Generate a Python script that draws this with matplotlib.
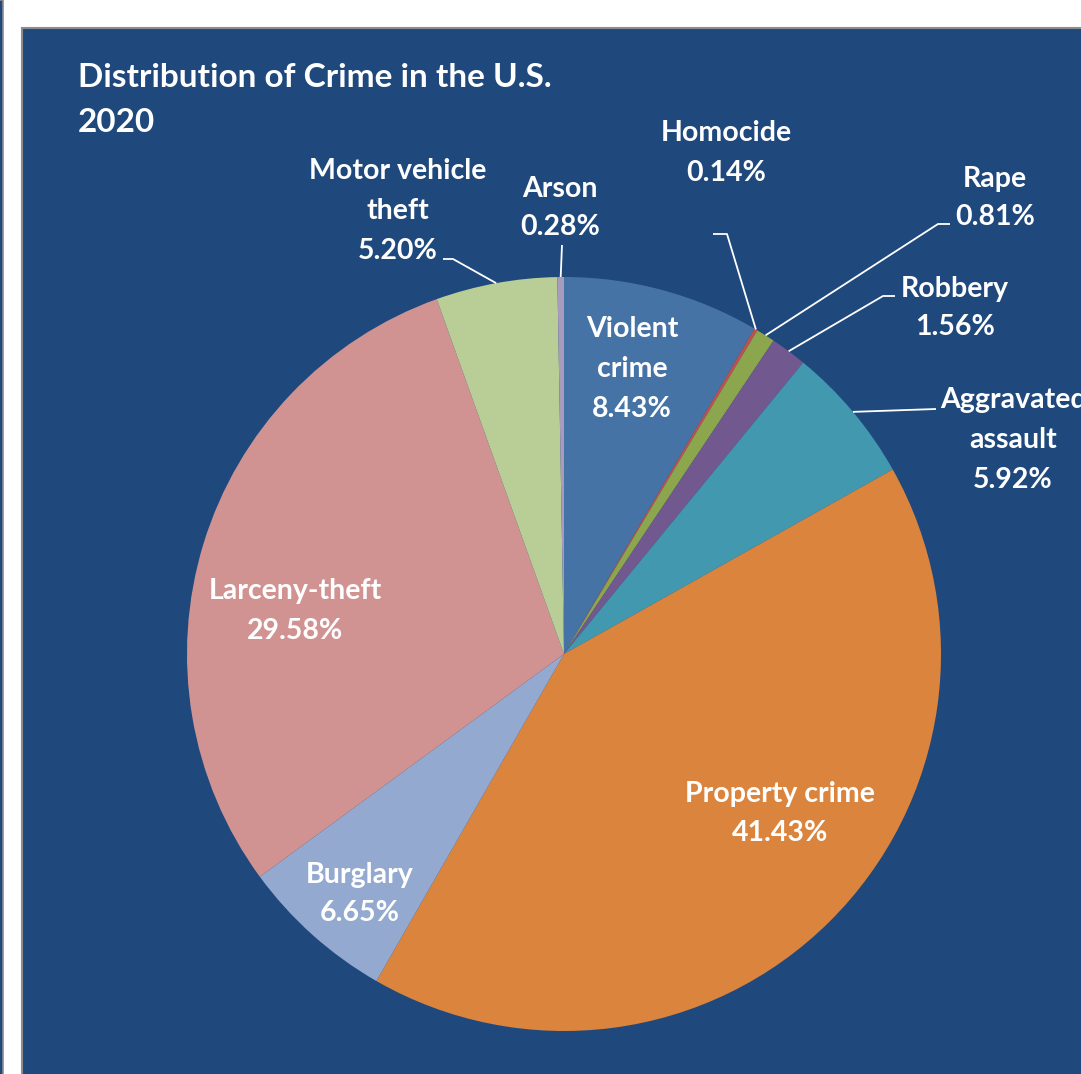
import numpy as np
import matplotlib
matplotlib.use("Agg")
import matplotlib.pyplot as plt
from matplotlib.patches import Rectangle

# slices, clockwise from 12 o'clock
labels = ["Violent crime", "Homocide", "Rape", "Robbery", "Aggravated assault",
          "Property crime", "Burglary", "Larceny-theft", "Motor vehicle theft", "Arson"]
shares = [8.43, 0.14, 0.81, 1.56, 5.92, 41.43, 6.65, 29.58, 5.20, 0.28]
colors = ["#4673A6", "#C0504D", "#8BA64C", "#71598F", "#4198AF",
          "#DB843D", "#93A9CF", "#D19392", "#B9CD96", "#A99BBD"]
label_lines = [["Violent", "crime", "8.43%"], ["Homocide", "0.14%"], ["Rape", "0.81%"],
               ["Robbery", "1.56%"], ["Aggravated", "assault", "5.92%"],
               ["Property crime", "41.43%"], ["Burglary", "6.65%"],
               ["Larceny-theft", "29.58%"], ["Motor vehicle", "theft", "5.20%"],
               ["Arson", "0.28%"]]

W, H = 1081, 1074
BG = "#1F497D"
CX, CY, R = 564, 654, 377          # pie centre / radius in pixels (y from top)

# label layout: x centre, first baseline (pixels from top), line step
LAYOUT = {
    "Violent crime": (632, 337, 40), "Homocide": (726, 141, 40),
    "Rape": (995, 187, 38), "Robbery": (955, 297, 38),
    "Aggravated assault": (1013, 408, 40), "Property crime": (780, 802, 39),
    "Burglary": (360, 883, 38), "Larceny-theft": (295, 599, 40),
    "Motor vehicle theft": (398, 179, 40), "Arson": (560, 197, 38),
}
# leader lines: elbow point and end point (pixels from top)
LEADERS = {
    "Homocide": [(727, 234), (713, 234)],
    "Rape": [(938, 224), (950, 224)],
    "Robbery": [(883, 296), (895, 296)],
    "Aggravated assault": [(936, 409), (936, 409)],
    "Motor vehicle theft": [(453, 259), (443, 259)],
    "Arson": [(562, 245), (562, 245)],
}

fig = plt.figure(figsize=(W / 100, H / 100), dpi=100, facecolor="white")
ax = fig.add_axes([0, 0, 1, 1])

def py(y):
    return H - y

# background panel
ax.add_patch(Rectangle((22, py(1080)), 1100, 1080 - 28, facecolor=BG,
                       edgecolor="#8C8C8C", lw=1.5, zorder=0))
ax.add_patch(Rectangle((-5, py(1080)), 7.5, 1080, facecolor=BG,
                       edgecolor="#8C8C8C", lw=1.2, zorder=0))

ax.pie(shares, colors=colors, startangle=90, counterclock=False,
       center=(CX, py(CY)), radius=R, wedgeprops=dict(linewidth=0))

font = dict(color="white", fontweight="bold", family=["Lato", "DejaVu Sans"])

cum = 0.0
for name, v, lines in zip(labels, shares, label_lines):
    mid = np.deg2rad(90 - 360 * (cum + v / 2) / 100)
    cum += v
    x0, y0, step = LAYOUT[name]
    for i, t in enumerate(lines):
        ax.text(x0, py(y0 + i * step), t, ha="center", va="baseline", fontsize=20.5, **font)
    if name in LEADERS:
        ex, ey = CX + R * np.cos(mid), CY - R * np.sin(mid)
        pts = [(ex, ey)] + LEADERS[name]
        ax.plot([p[0] for p in pts], [py(p[1]) for p in pts], color="white", lw=1.3,
                solid_capstyle="butt")

ax.text(78, py(87), "Distribution of Crime in the U.S.", ha="left", va="baseline",
        fontsize=24, **font)
ax.text(78, py(132), "2020", ha="left", va="baseline", fontsize=24, **font)

ax.set_xlim(0, W)
ax.set_ylim(0, H)
ax.set_aspect("equal")
ax.axis("off")
fig.savefig("out.png", dpi=100, facecolor="white")
